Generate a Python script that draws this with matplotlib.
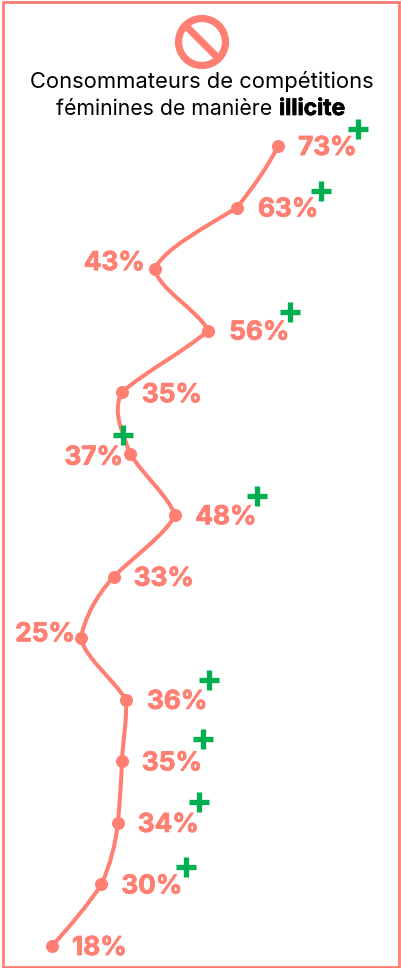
import matplotlib
matplotlib.use("Agg")
import matplotlib.pyplot as plt
import matplotlib.patheffects as pe
from matplotlib.path import Path
from matplotlib.patches import PathPatch, Circle, Rectangle

plt.rcParams['font.family'] = ['Inter', 'DejaVu Sans']

# Data
values = [73, 63, 43, 56, 35, 37, 48, 33, 25, 36, 35, 34, 30, 18]
labels = ["73%", "63%", "43%", "56%", "35%", "37%", "48%", "33%", "25%", "36%", "35%", "34%", "30%", "18%"]
has_plus = [True, True, False, True, False, True, True, False, False, True, True, True, True, False]

# label / plus offsets from the point, in pixels
label_dx = [20, 21, -10, 21, 20, -7, 20, 20, -6, 21, 20, 20, 20, 20]
label_dy = [2, 2, -6, 2, 3, 4, 2, 2, -4, 2, 2, 2, 2, 2]
plus_dx = [80, 84, 0, 82, 0, -7, 82, 0, 0, 83, 81, 81, 85, 0]
plus_dy = [-17, -17, 0, -19, 0, -19, -19, 0, 0, -20, -22, -21, -17, 0]

# curve slopes (px sideways per px down) leaving / reaching each segment's ends
seg_start = [-0.5, -1.6, 0.2, -1.15, -0.5, 0.6, -0.55, -0.9, 0.25, 0.05, -0.03, -0.1, -0.65]
seg_end = [-0.8, -0.45, 0.5, -1.15, 0.35, 0.4, -1.0, -0.2, 0.6, -0.05, -0.1, -0.45, -0.9]

CORAL = '#ff7f73'
GREEN = '#00b050'
W, H = 401, 968
ROW_PX = 61.54
VALUE_PX = 4.11


def curve_path(xs, ys):
    k = ROW_PX / VALUE_PX / 3
    verts = [(xs[0], ys[0])]
    codes = [Path.MOVETO]
    for i in range(len(xs) - 1):
        verts += [(xs[i] + seg_start[i] * k, ys[i] + 1 / 3),
                  (xs[i + 1] - seg_end[i] * k, ys[i + 1] - 1 / 3),
                  (xs[i + 1], ys[i + 1])]
        codes += [Path.CURVE4] * 3
    return Path(verts, codes)


fig = plt.figure(figsize=(W / 100, H / 100), dpi=100)

# data axes: x is the percentage, y the row number
ax = fig.add_axes([0, 0, 1, 1])
ax.set_xlim(5.35, 102.9)
ax.set_ylim((968 - 146) / ROW_PX, -146 / ROW_PX)
ax.axis('off')

rows = list(range(len(values)))
ax.add_patch(PathPatch(curve_path(values, rows), fill=False, edgecolor=CORAL, lw=2.9, capstyle='round'))
ax.scatter(values, rows, s=88, color=CORAL, linewidths=0, zorder=3)

thick = [pe.withStroke(linewidth=0.6, foreground=CORAL)]
for i, v in enumerate(values):
    ax.annotate(labels[i], (v, i), xytext=(label_dx[i], -label_dy[i]), textcoords='offset pixels',
                ha='right' if label_dx[i] < 0 else 'left', va='center',
                fontsize=18.8, fontweight='bold', color=CORAL, path_effects=thick)
    if has_plus[i]:
        px, py = ax.transData.transform((v, i))
        ax.plot([px + plus_dx[i]], [py - plus_dy[i]], marker='+', ms=14, mew=3.8, color=GREEN,
                transform=None, zorder=4)

# overlay in pixel coordinates for frame, icon and title
ov = fig.add_axes([0, 0, 1, 1], facecolor='none')
ov.set_xlim(0, W)
ov.set_ylim(H, 0)
ov.axis('off')

ov.add_patch(Rectangle((3, 1.5), 396, 965, fill=False, edgecolor=CORAL, lw=2))

ov.add_patch(Circle((202, 42), 23.5, fill=False, edgecolor=CORAL, lw=5.2))
ov.plot([186, 218], [26, 58], color=CORAL, lw=5.2, solid_capstyle='butt')

ov.text(202, 82, "Consommateurs de compétitions", ha='center', va='center', fontsize=15.8, color='black')
ov.text(272, 109, "féminines de manière", ha='right', va='center', fontsize=15.3, color='black')
ov.text(279, 109, "illicite", ha='left', va='center', fontsize=16.4, fontweight='bold', color='black',
        path_effects=[pe.withStroke(linewidth=0.5, foreground='black')])

fig.savefig("out.png", dpi=100)
